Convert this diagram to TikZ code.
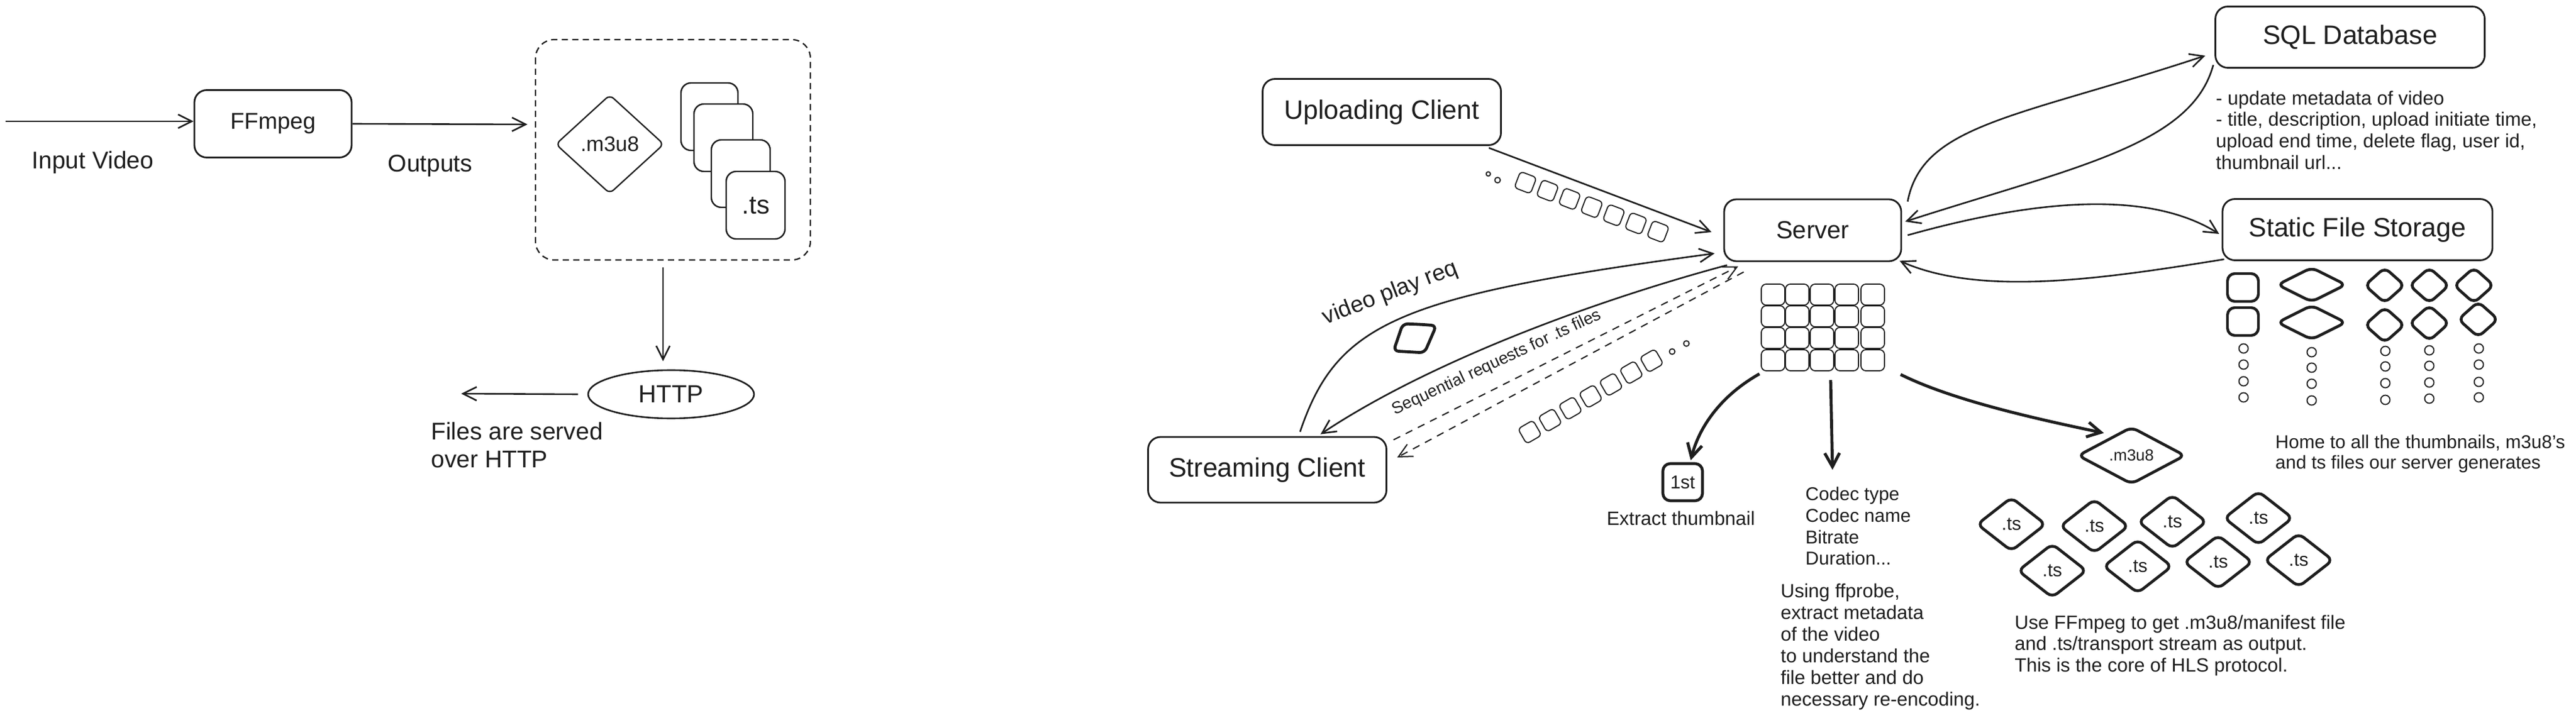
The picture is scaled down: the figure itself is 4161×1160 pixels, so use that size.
\documentclass[tikz,border=0pt]{standalone}
\usepackage{fontspec}
\setmainfont{Liberation Sans}
\usetikzlibrary{arrows.meta,shapes.geometric}
\definecolor{ink}{HTML}{1E1E1E}
\tikzset{
  box/.style={draw=ink,text=ink,line width=1.4pt,rounded corners=10pt,fill=white,inner sep=0pt,font=\fontsize{21.5}{26}\selectfont},
  lbl/.style={text=ink,inner sep=0pt,align=left,font=\fontsize{19.5}{22.5}\selectfont},
  note/.style={text=ink,inner sep=0pt,align=left,font=\fontsize{15.5}{17.4}\selectfont},
  arr/.style={draw=ink,line width=1.3pt,-{Straight Barb[length=11pt,width=11pt]}},
  thickarr/.style={draw=ink,line width=2.4pt,-{Straight Barb[length=11pt,width=12pt]}},
  dasharr/.style={draw=ink,line width=1pt,dash pattern=on 6pt off 5pt,-{Straight Barb[length=11pt,width=11pt]}},
  cellp/.style={draw=ink,line width=0.9pt,rounded corners=4pt},
  chunkp/.style={draw=ink,line width=0.9pt,rounded corners=3pt},
  cardp/.style={draw=ink,line width=1.2pt,rounded corners=8pt,fill=white},
  thickp/.style={draw=ink,line width=2.3pt,rounded corners=5pt,line join=round},
  dot/.style={draw=ink,line width=0.9pt},
  tstext/.style={text=ink,inner sep=0pt,font=\fontsize{15}{18}\selectfont},
}
\newcommand{\dmdpath}[4]{\draw[thickp] (#1-#3*0.5,#2-#4*0.5) -- (#1,#2-#4) -- (#1+#3,#2) -- (#1,#2+#4) -- (#1-#3,#2) -- cycle;}
\begin{document}
\begin{tikzpicture}[x=0.5pt,y=-0.5pt]
\useasboundingbox[fill=white] (0,0) rectangle (4161,1160);

% ---------------- left part ----------------
\node[box,font=\fontsize{18.5}{22}\selectfont,minimum width=127pt,minimum height=54.5pt] (ffmpeg) at (441,200) {FFmpeg};
\coordinate (inputstart) at (9,196);
\draw[arr] (inputstart) -- (ffmpeg.west |- inputstart);
\node[lbl] (inputlbl) at (150,262) {Input Video};

\draw[draw=ink,line width=1.1pt,dash pattern=on 5pt off 3.5pt,rounded corners=15pt] (865,64) rectangle (1309,420);
\coordinate (outend) at (852,201);
\coordinate (dashout) at (1071,432);
\draw[arr] (ffmpeg.east) -- (outend);
\node[lbl] (outlbl) at (695,268) {Outputs};

\node[shape=diamond,draw=ink,line width=1.1pt,rounded corners=4pt,minimum width=87.5pt,minimum height=80pt,inner sep=0pt,text=ink,font=\fontsize{17}{20}\selectfont] (m3u8L) at (985,233) {.m3u8};
\draw[cardp] (1100,134) rectangle (1192,243);
\draw[cardp] (1121,168) rectangle (1216,277);
\draw[cardp] (1149,226) rectangle (1244,335);
\draw[cardp] (1173,277) rectangle (1268,386);
\node[text=ink,inner sep=0pt,font=\fontsize{21}{24}\selectfont] (tsL) at (1221,332) {.ts};

\node[draw=ink,line width=1.3pt,shape=ellipse,minimum width=134pt,minimum height=39pt,inner sep=0pt,text=ink,font=\fontsize{20}{24}\selectfont] (http) at (1084,637) {HTTP};
\draw[arr] (dashout) -- ([xshift=-6.5pt,yshift=6.5pt]http.north);
\coordinate (servedend) at (745,636);
\draw[arr] ([xshift=-7.5pt]http.west) -- (servedend);
\node[lbl,anchor=west] (servedlbl) at (696,719.5) {Files are served\\over HTTP};

% ---------------- right part ----------------
\node[box,minimum width=192.5pt,minimum height=53.5pt] (upl) at (2232,181) {Uploading Client};
\node[box,font=\fontsize{20}{24}\selectfont,minimum width=143pt,minimum height=50pt] (server) at (2928,372) {Server};
\node[box,minimum width=192.5pt,minimum height=53pt] (stream) at (2047,759) {Streaming Client};
\node[box,minimum width=217.5pt,minimum height=49.5pt] (sql) at (3796,60) {SQL Database};
\node[box,minimum width=218pt,minimum height=49.5pt] (static) at (3808,371) {Static File Storage};

% upload
\draw[arr] ([xshift=-10.5pt,yshift=-1.5pt]upl.south east) -- ([xshift=-9.5pt,yshift=-1.5pt]server.west);
\foreach \i in {0,...,6}{
  \pgfmathsetmacro{\cx}{2464+35.7*\i}\pgfmathsetmacro{\cy}{295+13.2*\i}
  \draw[chunkp,rotate around={-21:(\cx,\cy)}] (\cx-14,\cy-14) rectangle (\cx+14,\cy+14);
}
\draw[dot] (2404,281) circle[radius=3.5];
\draw[dot] (2419,291) circle[radius=4.5];

% streaming
\draw[arr] ([xshift=26.5pt,yshift=3.5pt]stream.north) .. controls (2160,520) and (2260,478) .. ([xshift=-7pt,yshift=7pt]server.south west);
\node[lbl,rotate=21,font=\fontsize{18.5}{22}\selectfont] (playlbl) at (2246,474) {video play req};
\draw[arr] ([xshift=3pt,yshift=-2.5pt]server.south west) .. controls (2560,490) and (2300,590) .. ([xshift=43pt,yshift=1.5pt]stream.north);
\draw[draw=ink,line width=2.4pt,rounded corners=4pt] (2293,524) -- (2320,526) -- (2301,570) -- (2251,567) -- (2266,523) -- cycle;

\draw[dasharr] ([xshift=5pt,yshift=-3pt]stream.north east) -- ([xshift=12pt,yshift=-3.5pt]server.south west);
\draw[dasharr] ([xshift=16.5pt,yshift=-8pt]server.south west) -- ([xshift=8pt,yshift=10pt]stream.east);
\node[text=ink,inner sep=0pt,rotate=25,font=\fontsize{13.5}{16}\selectfont] (seqlbl) at (2418,586) {Sequential requests for .ts files};
\foreach \i in {0,...,6}{
  \pgfmathsetmacro{\cx}{2471+32.8*\i}\pgfmathsetmacro{\cy}{698-19.2*\i}
  \draw[chunkp,rotate around={30:(\cx,\cy)}] (\cx-14,\cy-14) rectangle (\cx+14,\cy+14);
}
\draw[dot] (2701,568) circle[radius=4.5];
\draw[dot] (2724,555) circle[radius=4.5];

% SQL
\draw[arr] ([xshift=4.5pt,yshift=-2.5pt]server.north east) .. controls (3105,200) and (3260,190) .. ([xshift=-7.5pt,yshift=10.5pt]sql.south west);
\draw[arr] ([xshift=-1pt,yshift=3pt]sql.south west) .. controls (3540,235) and (3350,270) .. ([xshift=2.5pt,yshift=7pt]server.east);
\node[note,anchor=west,font=\fontsize{15.5}{17.35}\selectfont] (sqlnote) at (3579,210) {- update metadata of video\\- title, description, upload initiate time,\\upload end time, delete flag, user id,\\thumbnail url...};

% Static storage
\draw[arr] ([xshift=4.5pt,yshift=-4pt]server.east) .. controls (3260,330) and (3460,300) .. ([xshift=-2pt,yshift=-3.5pt]static.west);
\draw[arr] ([xshift=2pt,yshift=1.5pt]static.south west) .. controls (3400,450) and (3200,480) .. ([xshift=-2pt,yshift=1pt]server.south east);

\draw[draw=ink,line width=2.2pt,rounded corners=6pt] (3598,442) rectangle (3648,487);
\draw[draw=ink,line width=2.2pt,rounded corners=6pt] (3598,497) rectangle (3648,542);
\dmdpath{3734}{460}{55}{27.5}
\dmdpath{3734}{521}{55}{27.5}
\dmdpath{3852}{461}{32}{28.5}
\dmdpath{3852}{525}{32}{28.5}
\dmdpath{3924}{461}{32}{28.5}
\dmdpath{3924}{522}{32}{28.5}
\dmdpath{3996}{461}{32}{28.5}
\dmdpath{4003}{516}{32}{28.5}
\foreach \x/\a/\b/\c/\d in {3624/563/589/616/642, 3734/569/594/620/647, 3853/567/592/619/646, 3924/566/591/618/644, 4004/563/589/617/642}{
  \draw[dot] (\x,\a) circle[radius=7.5];
  \draw[dot] (\x,\b) circle[radius=7.5];
  \draw[dot] (\x,\c) circle[radius=7.5];
  \draw[dot] (\x,\d) circle[radius=7.5];
}
\node[note,anchor=west,font=\fontsize{15}{16.5}\selectfont] (homenote) at (3675,733.5) {Home to all the thumbnails, m3u8's\\and ts files our server generates};

% frame grid
\foreach \x in {2864,2903,2943,2983,3025}
  \foreach \y in {476,511,546,582}
    \draw[cellp] (\x-19,\y-17) rectangle (\x+19,\y+17);
\coordinate (gridL) at (2842,604);
\coordinate (gridM) at (2957,614);
\coordinate (gridR) at (3070,605);

\node[draw=ink,line width=2.3pt,rounded corners=6pt,minimum width=32pt,minimum height=30pt,inner sep=0pt,text=ink,font=\fontsize{15}{18}\selectfont] (first) at (2718,779) {1st};
\draw[thickarr] (gridL) .. controls (2770,645) and (2742,700) .. ([xshift=6.5pt,yshift=1.5pt]first.north);
\node[note] (thumblbl) at (2715,837) {Extract thumbnail};

\coordinate (midend) at (2960,759);
\draw[thickarr] (gridM) -- (midend);
\node[note,anchor=west,font=\fontsize{15}{17.35}\selectfont] (codec) at (2916,850) {Codec type\\Codec name\\Bitrate\\Duration...};
\node[note,anchor=west,font=\fontsize{15.5}{17.5}\selectfont] (probe) at (2876,1044.5) {Using ffprobe,\\extract metadata\\of the video\\to understand the\\file better and do\\necessary re-encoding.};

\node[shape=diamond,draw=ink,line width=2.3pt,rounded corners=5pt,inner sep=0pt,minimum width=87pt,minimum height=46.5pt,text=ink,font=\fontsize{13}{16}\selectfont] (m3u8R) at (3443,736) {.m3u8};
\draw[thickarr] (gridR) .. controls (3150,645) and (3280,675) .. ([yshift=6pt]m3u8R.north west);

\foreach \x/\y [count=\k] in {3249/847,3383/850,3509/843,3648/837,3315/922,3453/915,3583/908,3713/905}{
  \dmdpath{\x}{\y}{55}{43}
  \node[tstext] (ts\k) at (\x,\y) {.ts};
}
\node[note,anchor=west,font=\fontsize{15.5}{17.25}\selectfont] (hlsnote) at (3254,1042.5) {Use FFmpeg to get .m3u8/manifest file\\and .ts/transport stream as output.\\This is the core of HLS protocol.};
\end{tikzpicture}
\end{document}
